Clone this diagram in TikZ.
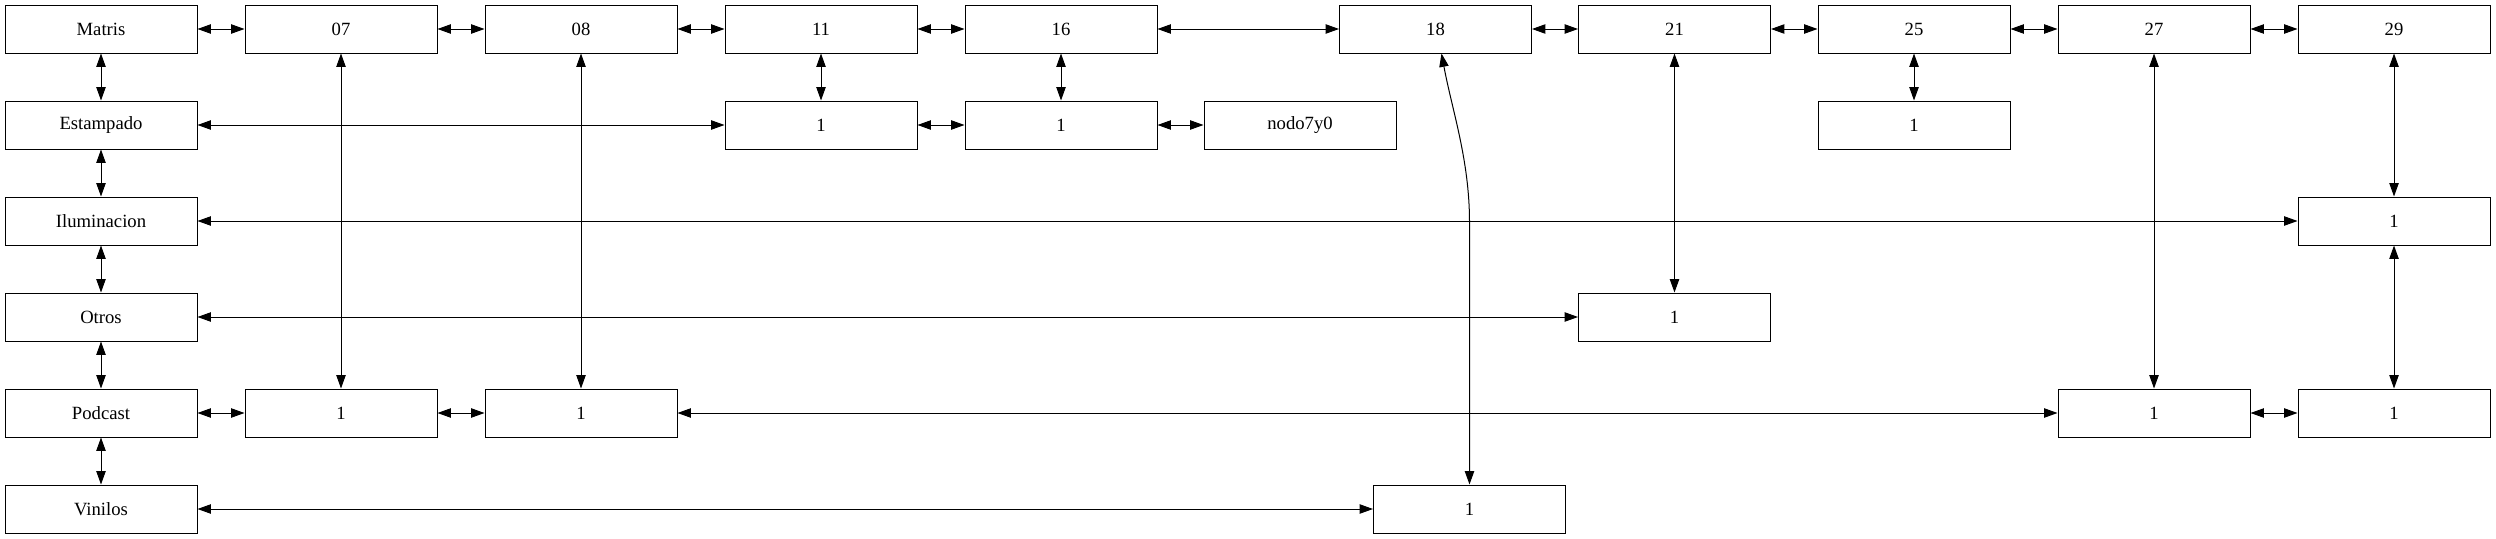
\documentclass[tikz,border=0pt]{standalone}
\usepackage{fontspec}
\setmainfont{Liberation Serif}
\usetikzlibrary{arrows.meta}

\begin{document}
\begin{tikzpicture}[x=0.75pt,y=-0.75pt,
        line width=0.75pt,
        >={Triangle[length=10pt,width=7pt]},<->,
        boxNode/.style = {draw=black,line width=0.75pt,minimum width=144pt,minimum height=36pt,inner sep=0pt,font=\fontsize{14}{16}\selectfont},
        ]
        \useasboundingbox (0,0) rectangle (2496,539);
        % top row
        \node[boxNode] (matris) at (101,29) {Matris};
        \node[boxNode] (n07) at (341,29) {07};
        \node[boxNode] (n08) at (581,29) {08};
        \node[boxNode] (n11) at (821,29) {11};
        \node[boxNode] (n16) at (1061,29) {16};
        \node[boxNode] (n18) at (1435.5,29) {18};
        \node[boxNode] (n21) at (1674.5,29) {21};
        \node[boxNode] (n25) at (1914,29) {25};
        \node[boxNode] (n27) at (2154,29) {27};
        \node[boxNode] (n29) at (2394,29) {29};
        % first column
        \node[boxNode] (estampado) at (101,125) {Estampado};
        \node[boxNode] (iluminacion) at (101,221) {Iluminacion};
        \node[boxNode] (otros) at (101,317) {Otros};
        \node[boxNode] (podcast) at (101,413) {Podcast};
        \node[boxNode] (vinilos) at (101,509) {Vinilos};
        % inner cells
        \node[boxNode] (e11) at (821,125) {1};
        \node[boxNode] (e16) at (1061,125) {1};
        \node[boxNode] (nodo7y0) at (1300,125) {nodo7y0};
        \node[boxNode] (e25) at (1914,125) {1};
        \node[boxNode] (i29) at (2394,221) {1};
        \node[boxNode] (o21) at (1674.5,317) {1};
        \node[boxNode] (p07) at (341,413) {1};
        \node[boxNode] (p08) at (581,413) {1};
        \node[boxNode] (p27) at (2154,413) {1};
        \node[boxNode] (p29) at (2394,413) {1};
        \node[boxNode] (v18) at (1469.5,509) {1};
        % header links
        \draw (matris) -- (n07);
        \draw (n07) -- (n08);
        \draw (n08) -- (n11);
        \draw (n11) -- (n16);
        \draw (n16) -- (n18);
        \draw (n18) -- (n21);
        \draw (n21) -- (n25);
        \draw (n25) -- (n27);
        \draw (n27) -- (n29);
        \draw (matris) -- (estampado);
        \draw (estampado) -- (iluminacion);
        \draw (iluminacion) -- (otros);
        \draw (otros) -- (podcast);
        \draw (podcast) -- (vinilos);
        % rows
        \draw (estampado) -- (e11);
        \draw (e11) -- (e16);
        \draw (e16) -- (nodo7y0);
        \draw (iluminacion) -- (i29);
        \draw (otros) -- (o21);
        \draw (podcast) -- (p07);
        \draw (p07) -- (p08);
        \draw (p08) -- (p27);
        \draw (p27) -- (p29);
        \draw (vinilos) -- (v18);
        % columns
        \draw (n07) -- (p07);
        \draw (n08) -- (p08);
        \draw (n11) -- (e11);
        \draw (n16) -- (e16);
        \draw ([xshift=4.5pt]n18.south) .. controls (1452,110) and (1469.5,160) .. (1469.5,222) -- (v18.north);
        \draw (n21) -- (o21);
        \draw (n25) -- (e25);
        \draw (n27) -- (p27);
        \draw (n29) -- (i29);
        \draw (i29) -- (p29);
\end{tikzpicture}
\end{document}
